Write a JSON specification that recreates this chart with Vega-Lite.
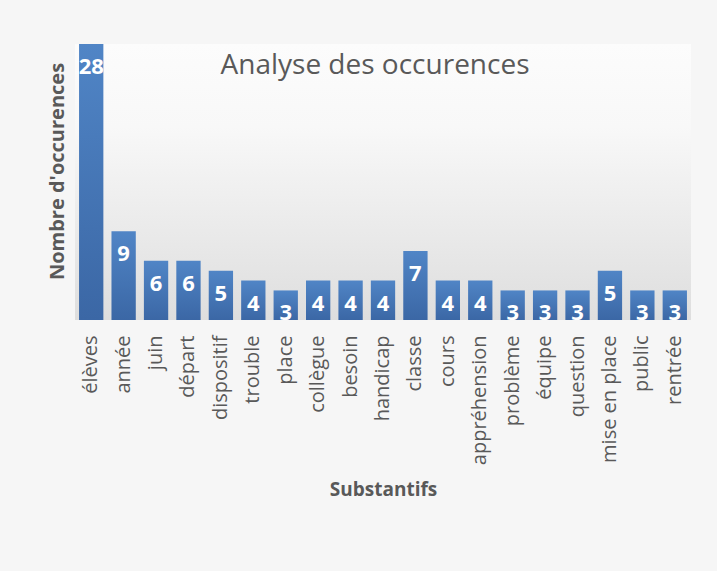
{
  "$schema": "https://vega.github.io/schema/vega-lite/v6.json",
  "width": 616,
  "height": 276,
  "autosize": {"type": "none"},
  "padding": {"left": 75, "top": 44, "right": 26, "bottom": 251},
  "background": "#f6f6f6",
  "title": {
    "text": "Analyse des occurences",
    "font": "Open Sans",
    "fontSize": 28,
    "fontWeight": "normal",
    "color": "#595959",
    "anchor": "middle",
    "offset": -36,
    "dx": -8
  },
  "config": {
    "view": {
      "stroke": null,
      "fill": {
        "gradient": "linear",
        "x1": 0, "y1": 0, "x2": 0, "y2": 1,
        "stops": [
          {"offset": 0, "color": "#fcfcfc"},
          {"offset": 0.3, "color": "#f8f8f8"},
          {"offset": 1, "color": "#dedede"}
        ]
      }
    }
  },
  "data": {
    "values": [
      {"mot": "élèves", "n": 28},
      {"mot": "année", "n": 9},
      {"mot": "juin", "n": 6},
      {"mot": "départ", "n": 6},
      {"mot": "dispositif", "n": 5},
      {"mot": "trouble", "n": 4},
      {"mot": "place", "n": 3},
      {"mot": "collègue", "n": 4},
      {"mot": "besoin", "n": 4},
      {"mot": "handicap", "n": 4},
      {"mot": "classe", "n": 7},
      {"mot": "cours", "n": 4},
      {"mot": "appréhension", "n": 4},
      {"mot": "problème", "n": 3},
      {"mot": "équipe", "n": 3},
      {"mot": "question", "n": 3},
      {"mot": "mise en place", "n": 5},
      {"mot": "public", "n": 3},
      {"mot": "rentrée", "n": 3}
    ]
  },
  "encoding": {
    "x": {
      "field": "mot",
      "type": "nominal",
      "sort": null,
      "scale": {"paddingInner": 0.25, "paddingOuter": 0.125},
      "axis": {
        "title": "Substantifs",
        "titleFont": "Open Sans",
        "titleFontSize": 19,
        "titleFontWeight": "bold",
        "titleColor": "#595959",
        "titlePadding": 16,
        "labelAngle": -90,
        "labelFont": "Open Sans",
        "labelFontSize": 20,
        "labelColor": "#595959",
        "labelPadding": 15,
        "domain": false,
        "ticks": false
      }
    },
    "y": {
      "field": "n",
      "type": "quantitative",
      "scale": {"domain": [0, 28], "nice": false},
      "axis": {
        "title": "Nombre d'occurences",
        "titleFont": "Open Sans",
        "titleFontSize": 20,
        "titleFontWeight": "bold",
        "titleColor": "#595959",
        "titlePadding": 8,
        "titleY": 127,
        "labels": false,
        "ticks": false,
        "domain": false,
        "grid": false
      }
    }
  },
  "layer": [
    {
      "mark": {
        "type": "bar",
        "fill": {
          "gradient": "linear",
          "x1": 0, "y1": 0, "x2": 0, "y2": 1,
          "stops": [
            {"offset": 0, "color": "#5085c6"},
            {"offset": 1, "color": "#3b67a5"}
          ]
        }
      }
    },
    {
      "mark": {
        "type": "text",
        "font": "Open Sans",
        "fontSize": 22,
        "fontWeight": "bold",
        "color": "#ffffff",
        "baseline": "middle",
        "dy": 23
      },
      "encoding": {"text": {"field": "n", "type": "quantitative"}}
    }
  ]
}
